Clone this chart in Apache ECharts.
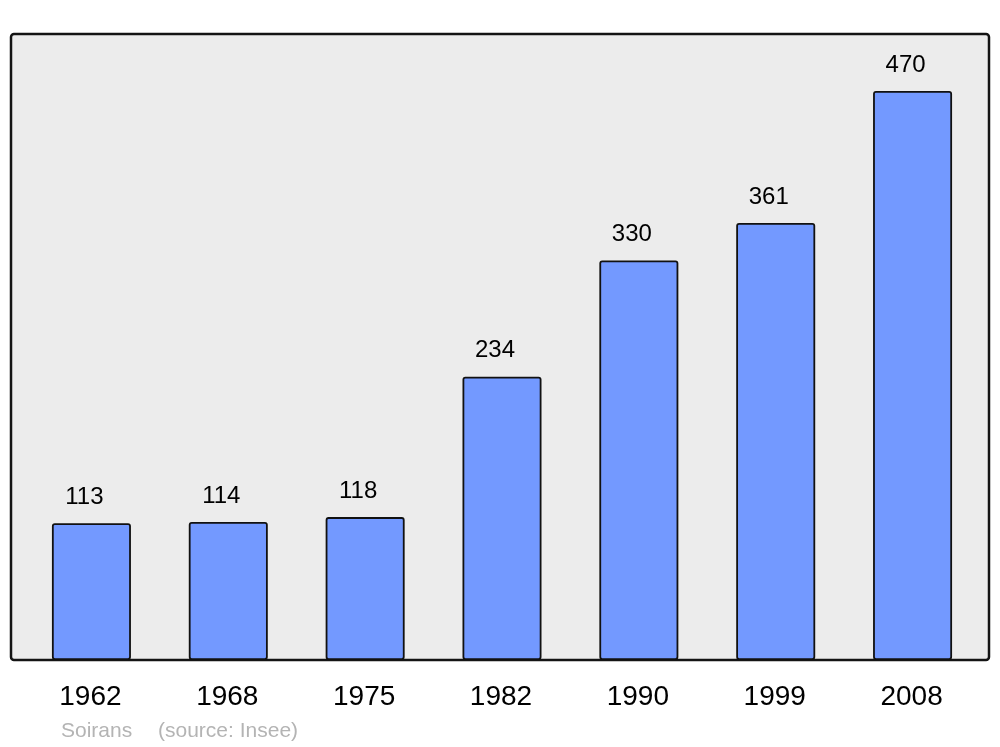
<!DOCTYPE html>
<html>
<head>
<meta charset="utf-8">
<script src="https://cdn.jsdelivr.net/npm/echarts@6/dist/echarts.min.js"></script>
<style>
html,body{margin:0;padding:0;background:#fff;}
#chart{width:1000px;height:747px;}
</style>
</head>
<body>
<div id="chart"></div>
<script>
const years = ['1962','1968','1975','1982','1990','1999','2008'];
const population = [113,114,118,234,330,361,470];
const townName = 'Soirans';
const sourceNote = '(source: Insee)';

const chart = echarts.init(document.getElementById('chart'), null, {renderer:'canvas'});
const FONT = '"Liberation Sans", Arial, sans-serif';
chart.setOption({
  animation: false,
  backgroundColor: '#ffffff',
  grid: {left: 23, right: 19, top: 34, bottom: 87, containLabel: false},
  xAxis: {
    type: 'category',
    data: years,
    axisLine: {show: false},
    axisTick: {show: false},
    splitLine: {show: false},
    axisLabel: {color: '#000', fontSize: 28, fontFamily: FONT, margin: 23, padding: [0, 2, 0, 0]}
  },
  yAxis: {
    type: 'value',
    min: 0,
    max: 517,
    show: false,
    splitLine: {show: false}
  },
  graphic: [
    {
      type: 'rect', z: -10, silent: true,
      shape: {x: 11, y: 34, width: 978, height: 626, r: 3},
      style: {fill: '#ececec', stroke: '#141414', lineWidth: 2.5}
    },
    {
      type: 'text', left: 61, top: 721, silent: true,
      style: {text: townName, fill: '#b4b4b4', font: '21px ' + FONT}
    },
    {
      type: 'text', left: 158, top: 721, silent: true,
      style: {text: sourceNote, fill: '#b4b4b4', font: '21px ' + FONT}
    }
  ],
  series: [{
    type: 'bar',
    data: population,
    barWidth: 79,
    itemStyle: {color: '#7399ff', borderColor: '#111', borderWidth: 1.8, borderRadius: 2},
    label: {
      show: true, position: 'top', distance: 14, offset: [-7, 0],
      color: '#000', fontSize: 24, fontFamily: FONT
    }
  }]
});
</script>
</body>
</html>
